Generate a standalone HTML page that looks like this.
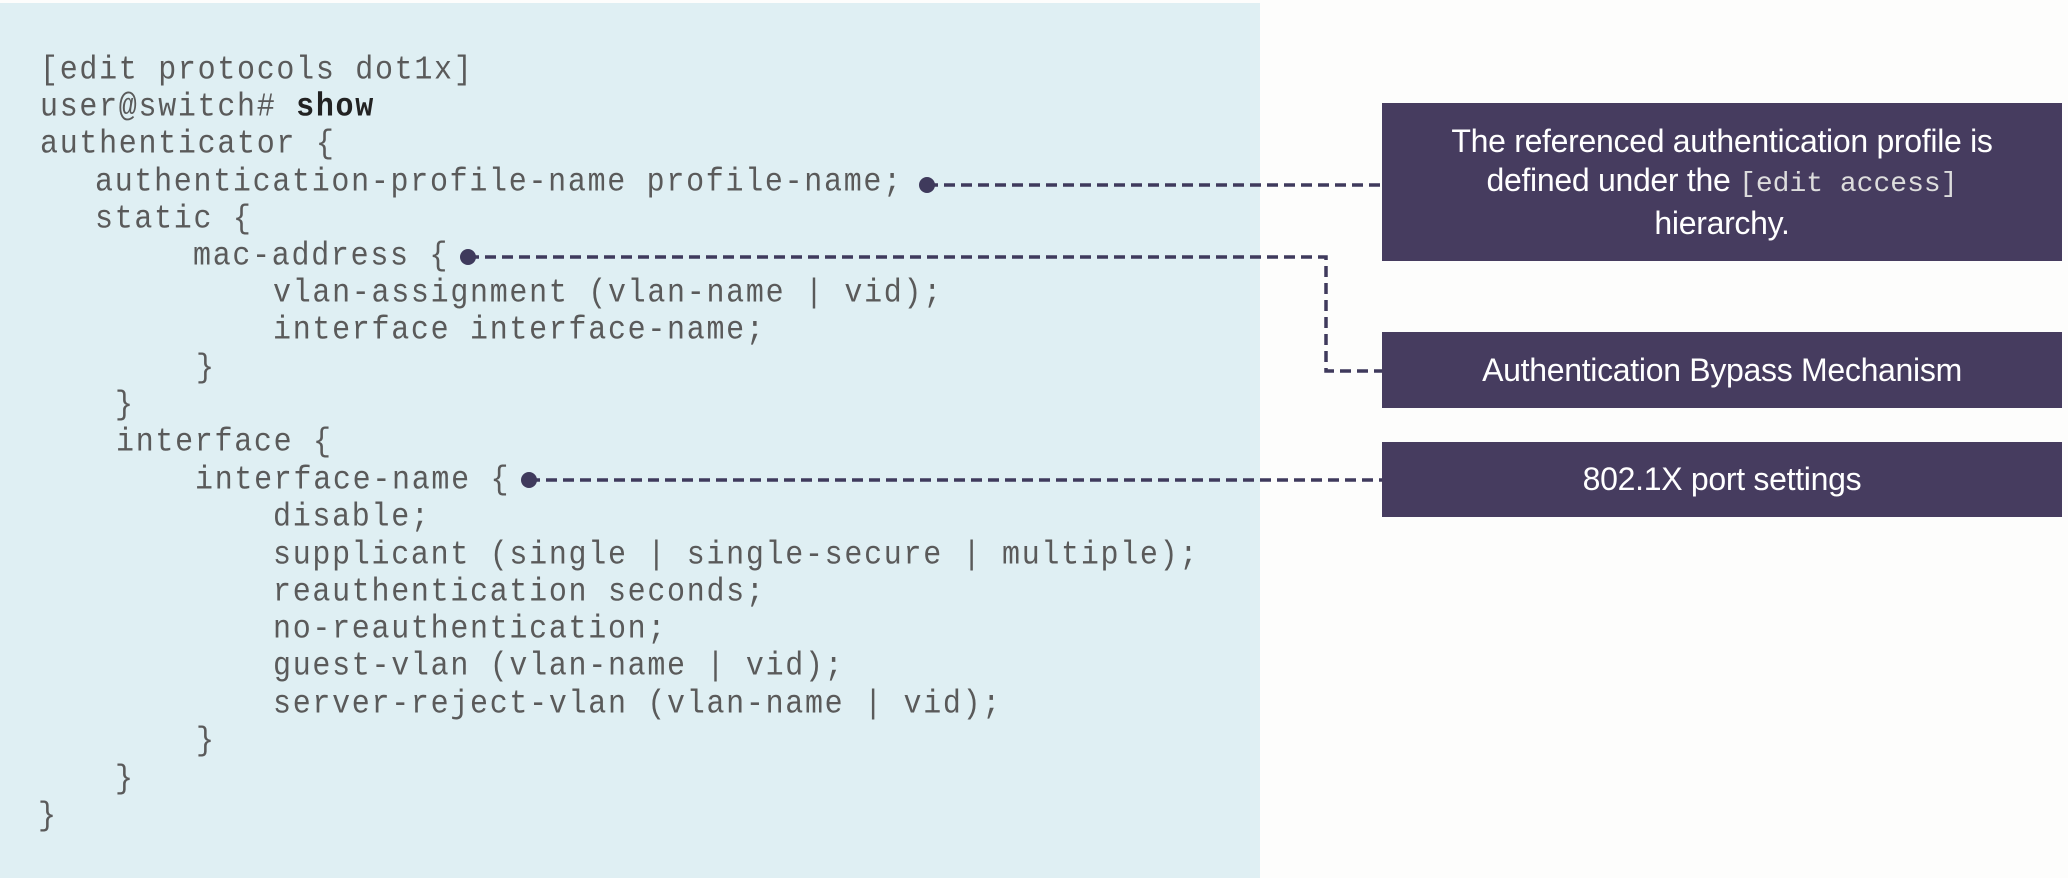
<!DOCTYPE html>
<html><head><meta charset="utf-8"><style>
body{margin:0;width:2068px;height:878px;background:#fdfdfc;position:relative;overflow:hidden;font-family:"Liberation Sans",sans-serif}
#panel{position:absolute;left:0;top:3px;width:1260px;height:875px;background:#dfeff3}
.c{position:absolute;font-family:"Liberation Mono",monospace;font-size:30px;letter-spacing:1.7px;color:#5a5a5a;white-space:pre;line-height:37px;transform:scaleY(1.1)}
.box{position:absolute;left:1382px;width:680px;background:#463c5f;color:#fff;text-align:center;display:flex;align-items:center;justify-content:center;font-size:32px;line-height:39px;letter-spacing:-0.3px}
.box code{font-family:"Liberation Mono",monospace;font-size:28px;color:#ddd;letter-spacing:0}
</style></head><body>
<div id="panel"></div>
<div class="c" style="left:40px;top:53px">[edit protocols dot1x]</div>
<div class="c" style="left:40px;top:90px">user@switch# <b style="color:#222">show</b></div>
<div class="c" style="left:40px;top:127px">authenticator {</div>
<div class="c" style="left:95px;top:165px">authentication-profile-name profile-name;</div>
<div class="c" style="left:95px;top:202px">static {</div>
<div class="c" style="left:193px;top:239px">mac-address {</div>
<div class="c" style="left:273px;top:276px">vlan-assignment (vlan-name | vid);</div>
<div class="c" style="left:273px;top:313px">interface interface-name;</div>
<div class="c" style="left:196px;top:351px">}</div>
<div class="c" style="left:115px;top:388px">}</div>
<div class="c" style="left:116px;top:425px">interface {</div>
<div class="c" style="left:195px;top:463px">interface-name {</div>
<div class="c" style="left:273px;top:500px">disable;</div>
<div class="c" style="left:273px;top:538px">supplicant (single | single-secure | multiple);</div>
<div class="c" style="left:273px;top:575px">reauthentication seconds;</div>
<div class="c" style="left:273px;top:612px">no-reauthentication;</div>
<div class="c" style="left:273px;top:649px">guest-vlan (vlan-name | vid);</div>
<div class="c" style="left:273px;top:687px">server-reject-vlan (vlan-name | vid);</div>
<div class="c" style="left:196px;top:724px">}</div>
<div class="c" style="left:115px;top:762px">}</div>
<div class="c" style="left:38px;top:799px">}</div>
<svg width="2068" height="878" style="position:absolute;left:0;top:0">
<g stroke="#3f3a5c" stroke-width="3.5" fill="none" stroke-dasharray="11 6">
<path d="M927 185H1382"/>
<path d="M468 257H1326V371H1382"/>
<path d="M529 480H1382"/>
</g>
<g fill="#3f3a5c"><circle cx="927" cy="185" r="8"/><circle cx="468" cy="257" r="8"/><circle cx="529" cy="480" r="8"/></g>
</svg>
<div class="box" style="top:103px;height:158px"><div>The referenced authentication profile is<br>defined under the <code>[edit access]</code><br>hierarchy.</div></div>
<div class="box" style="top:332px;height:76px">Authentication Bypass Mechanism</div>
<div class="box" style="top:442px;height:75px">802.1X port settings</div>
</body></html>
